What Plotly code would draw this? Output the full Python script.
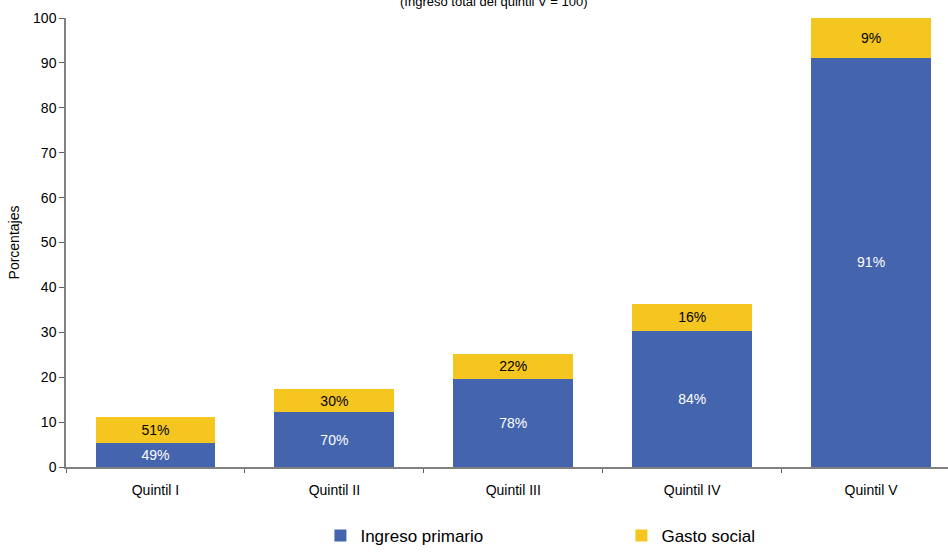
import plotly.graph_objects as go

categories = ["Quintil I", "Quintil II", "Quintil III", "Quintil IV", "Quintil V"]
ingreso_primario = [5.4, 12.2, 19.6, 30.4, 91.2]
gasto_social = [5.7, 5.2, 5.6, 5.9, 8.8]
labels_primario = ["49%", "70%", "78%", "84%", "91%"]
labels_gasto = ["51%", "30%", "22%", "16%", "9%"]
y_ticks = [0, 10, 20, 30, 40, 50, 60, 70, 80, 90, 100]

FONT = "Liberation Sans, Arial, Helvetica, sans-serif"
BLUE = "#4464AE"
YELLOW = "#F5C520"

fig = go.Figure()
fig.add_trace(go.Bar(
    x=categories, y=ingreso_primario, name="Ingreso primario",
    marker=dict(color=BLUE, line=dict(width=0)),
    text=labels_primario, textposition="inside", insidetextanchor="middle",
    textfont=dict(color="white", size=14, family=FONT),
    width=0.67,
))
fig.add_trace(go.Bar(
    x=categories, y=gasto_social, name="Gasto social",
    marker=dict(color=YELLOW, line=dict(width=0)),
    text=labels_gasto, textposition="inside", insidetextanchor="middle",
    textfont=dict(color="black", size=14, family=FONT),
    width=0.67,
))

fig.update_layout(
    barmode="stack",
    width=948, height=554,
    margin=dict(l=66, r=0, t=18, b=87),
    plot_bgcolor="white", paper_bgcolor="white",
    font=dict(family=FONT, size=14, color="black"),
    uniformtext=dict(mode="show", minsize=8),
    showlegend=True,
    legend=dict(
        orientation="h", xref="container", yref="container",
        x=0.338, y=0.0, xanchor="left", yanchor="bottom",
        entrywidth=256, entrywidthmode="pixels",
        font=dict(size=17, family=FONT, color="black"),
        traceorder="normal",
    ),
    annotations=[dict(
        text="(Ingreso total del quintil V = 100)",
        xref="paper", yref="paper", x=0.485, y=1.0,
        xanchor="center", yanchor="middle", yshift=17,
        showarrow=False, font=dict(size=13, family=FONT, color="black"),
    )],
)
fig.update_xaxes(
    range=[-0.5, 4.43],
    showline=True, linecolor="#808080", linewidth=2,
    ticks="outside", tickson="boundaries", ticklen=4, tickcolor="#606060",
    showgrid=False, tickfont=dict(size=14, family=FONT),
    ticklabelstandoff=9,
)
fig.update_yaxes(
    range=[0, 100], tickvals=y_ticks,
    showline=True, linecolor="#808080", linewidth=1.5,
    ticks="outside", ticklen=5, tickcolor="#606060",
    showgrid=False, zeroline=False,
    title=dict(text="Porcentajes", font=dict(size=14, family=FONT), standoff=10),
    tickfont=dict(size=14, family=FONT),
)

fig.write_html("out.html")
